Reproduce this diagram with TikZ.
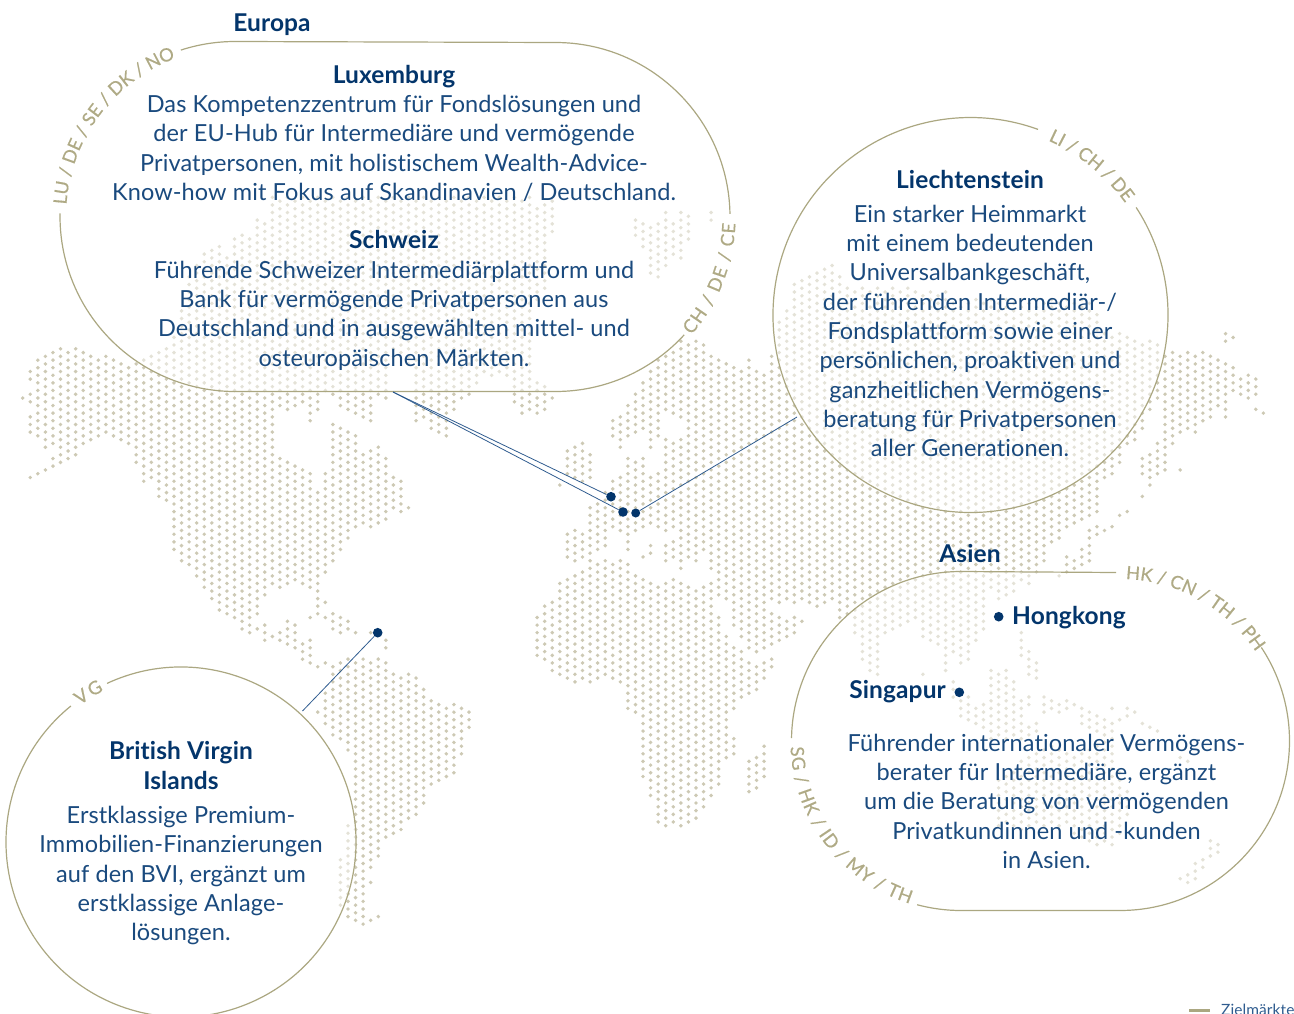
\documentclass[tikz,border=0pt]{standalone}
\usepackage{fontspec}
\setmainfont{Lato}[LetterSpace=0.5,Ligatures=NoCommon]
\newfontfamily\labfam{Lato}[FakeBold=0.5]
\usetikzlibrary{decorations.text}
\definecolor{dotc}{HTML}{CDC9B4}
\definecolor{linec}{HTML}{ABA781}
\definecolor{labc}{HTML}{AFAA85}
\definecolor{bodyc}{HTML}{1A4A7E}
\definecolor{headc}{HTML}{03356B}
\definecolor{connc}{HTML}{2F5C8F}
\newcommand\labf{\labfam\fontsize{18.3}{18.3}\selectfont\color{labc}}
\newcommand\headf{\fontsize{24.5}{29.3}\selectfont\bfseries\color{headc}}
\tikzset{
  bubble/.style={draw=linec,line width=1.2pt},
  veil/.style={fill=white,fill opacity=.47},
  conn/.style={draw=connc,line width=.8pt},
  pinb/.style={circle,fill=headc,inner sep=0pt,minimum size=9.6pt},
  pins/.style={circle,fill=headc,inner sep=0pt,minimum size=9pt},
  bodyt/.style={align=center,anchor=north,inner sep=0pt,text=bodyc,font=\fontsize{23.5}{29.3}\selectfont},
  headt/.style={anchor=base,inner sep=0pt,text=headc,font=\fontsize{24.5}{29.3}\selectfont\bfseries},
  lab/.style={decorate,decoration={text along path,text align={fit to path},text={|\labf|#1}}}
}
\newcommand\firstl{\rule{0pt}{20pt}}
\begin{document}
\begin{tikzpicture}[x=1pt,y=-1pt]
\useasboundingbox (0,0) rectangle (1294,1014);
% map dots: column / first y / last y
\foreach \c/\a/\b in {
0/398/398,1/372/380,1/393/402,1/417/432,1/477/477,2/360/436,2/474/474,3/356/447,3/470/470,4/353/447,4/458/466,5/349/455,5/462/462,6/353/458,7/349/455,8/353/443,9/357/440,10/360/436,11/357/432,12/360/436,13/363/440,14/368/443,15/365/462,16/360/482,17/357/478,18/353/497,19/350/500,20/340/550,21/310/562,22/280/565,23/265/577,24/255/588,25/250/598,26/247/610,27/255/615,28/240/617,29/235/629,30/240/632,31/220/613,31/628/628,32/225/593,32/625/640,33/200/587,33/636/636,
34/200/408,34/458/587,34/633/640,35/200/408,35/462/583,35/621/643,36/200/408,36/466/579,36/625/648,37/200/403,37/470/583,37/643/660,38/200/420,38/473/587,38/617/617,38/640/663,39/200/410,39/492/592,39/598/613,39/667/667,39/712/712,40/200/392,40/473/572,40/603/603,40/617/617,40/663/663,40/690/723,41/200/398,41/425/563,41/613/629,41/667/735,42/200/408,42/428/550,42/617/633,42/663/738,42/858/907,43/200/408,43/432/538,43/620/628,43/658/750,43/825/917,44/200/412,44/436/527,44/633/633,44/662/918,45/200/417,45/451/525,45/658/923,46/200/420,46/450/527,46/633/633,46/662/867,46/882/882,46/920/920,47/200/398,47/447/523,47/658/857,47/915/915,48/200/398,48/458/520,48/640/648,48/662/837,49/200/360,49/477/508,49/673/833,50/200/350,50/481/512,50/677/830,51/200/365,51/508/508,51/677/818,52/200/417,52/677/813,53/200/417,53/688/803,54/200/429,54/700/783,55/200/433,55/705/780,56/200/437,56/708/777,57/200/410,57/705/773,58/200/397,58/708/753,59/200/393,59/712/727,60/200/385,61/200/375,62/200/375,63/200/375,64/200/375,65/200/403,66/200/413,67/200/410,68/205/300,68/385/413,68/618/655,69/205/290,69/385/410,69/606/659,70/203/230,70/398/398,70/602/667,
71/583/674,71/485/485,72/450/477,72/533/557,72/579/678,73/447/480,73/530/560,73/576/682,74/443/480,74/533/557,74/572/678,75/455/480,75/507/520,75/530/557,75/568/682,76/507/552,76/564/678,77/493/545,77/561/674,78/420/437,78/482/530,78/564/678,79/417/447,79/480/533,79/561/682,80/405/433,80/457/493,80/507/533,80/542/549,80/564/708,81/223/238,81/395/430,81/460/530,81/575/712,82/223/245,82/383/430,82/457/523,82/557/557,82/579/777,83/227/275,83/373/447,83/477/523,83/545/553,83/583/792,84/223/278,84/363/437,84/477/530,84/587/823,85/215/263,85/357/407,85/440/530,85/545/557,85/583/825,86/227/253,86/350/413,86/440/530,86/542/557,86/579/822,87/213/260,87/343/420,87/440/557,87/568/568,87/583/825,88/213/237,88/343/557,88/587/822,89/340/560,89/590/818,90/343/553,90/587/807,91/212/223,91/353/570,91/583/792,92/360/597,92/617/785,93/365/598,93/635/757,94/367/607,94/617/625,94/647/712,94/737/755,95/372/637,95/650/697,96/360/647,96/662/693,96/760/792,97/372/652,97/667/690,97/757/788,98/375/648,98/662/678,98/746/777,99/355/552,99/560/600,99/612/643,99/658/667,100/320/602,100/620/640,101/310/600,101/625/637,102/283/600,102/617/633,103/280/598,103/621/621,
104/280/600,105/275/603,106/270/603,107/265/595,108/280/617,109/290/613,110/290/635,111/290/658,112/290/670,113/290/675,114/290/633,115/290/627,116/290/625,117/290/620,118/295/617,119/295/633,119/674/674,120/295/640,121/295/643,122/295/672,123/300/652,123/680/695,124/300/663,124/700/713,125/300/660,125/700/720,126/300/643,126/705/725,127/300/628,127/705/730,128/300/587,128/670/735,129/300/600,129/672/737,129/783/822,130/300/593,130/668/740,130/775/825,131/300/593,131/682/737,131/770/825,132/300/580,132/632/657,132/700/715,132/727/740,132/765/828,133/300/580,133/652/677,133/697/705,133/727/733,133/757/828,134/300/570,134/663/678,134/727/731,134/757/825,135/300/560,135/697/712,135/752/825,136/300/545,136/700/708,136/748/822,137/300/540,137/575/575,137/705/712,137/750/822,138/300/527,138/560/575,138/700/708,138/755/825,139/300/523,139/557/570,139/705/705,139/757/832,140/300/518,140/553/565,140/708/723,140/757/835,141/305/512,141/527/562,141/712/727,141/750/840,142/315/512,142/527/533,142/715/731,142/745/843,143/330/480,143/530/530,143/720/843,144/335/470,144/527/527,144/708/708,144/723/842,145/335/460,145/515/515,145/720/720,145/775/835,146/335/440,146/512/512,146/708/715,146/790/815,147/340/443,147/712/712,148/343/430,148/458/473,148/496/496,148/723/723,149/340/410,149/453/485,149/727/727,150/343/400,150/443/473,150/731/731,151/353/430,151/443/470,152/354/433,152/443/443,153/353/433,153/470/470,153/757/757,153/878/878,154/352/428,154/760/760,154/873/882,155/355/432,155/863/878,156/352/420,156/858/867,157/355/417,157/840/857,158/360/408,158/843/852,159/333/342,159/363/417,160/337/337,160/367/390,161/378/393,162/378/398,163/378/392,163/409/409,164/413/413}{
  \pgfmathtruncatemacro\odd{mod(\c,2)}
  \pgfmathsetmacro\off{398+3.785*\odd}
  \pgfmathtruncatemacro\ka{round((\a-\off)/7.57)}
  \pgfmathtruncatemacro\kb{round((\b-\off)/7.57)}
  \pgfmathsetmacro\xx{22.7+7.565*\c}
  \foreach \k in {\ka,...,\kb}{
    \fill[dotc] (\xx,\off+7.57*\k) circle[radius=1.95pt];
  }
}
% veils over the map
\fill[veil] (235,41.5) -- (555.5,42.5) arc (-90:90:174.5) -- (235,391.5) arc (90:270:175) -- cycle;
\fill[veil] (970.5,315) circle[radius=197.5pt];
\fill[veil] (961,571.5) -- (1120,572.5) arc (-90:90:169.5) -- (961,910.5) arc (90:270:169.5) -- cycle;
\fill[veil] (181,842) circle[radius=175pt];
% bubble outlines
\draw[bubble] (235,216.5) ++(252:175) arc (252:270:175) -- (555.5,42.5) arc (-90:-1:174.5);
\draw[bubble] (555.5,217) ++(42.5:174.5) arc (42.5:90:174.5) -- (235,391.5) arc (90:181:175);
\draw[bubble] (970.5,315) ++(-33:197.5) arc (-33:290:197.5);
\draw[bubble] (961,741) ++(105:169.5) arc (105:90:169.5) -- (1120,910.5) arc (90:-33.5:169.5);
\draw[bubble] (1116,572.5) -- (961,571.5) arc (270:181:169.5);
\draw[bubble] (181,842) ++(245:175) arc (245:591:175);
% arc labels
\path[lab={LU / DE / SE / DK / NO}] (235,216.5) ++(184:169) arc (184:249:169);
\path[lab={CH / DE / CE}] (555.5,217) ++(41:180) arc (41:2:180);
\path[lab={LI / CH / DE}] (970.5,315) ++(-66:191) arc (-66:-37:191);
\path[lab={HK / CN / TH / PH}] (1120,742) ++(-88:163) arc (-88:-35.5:163);
\path[lab={SG / HK / ID / MY / TH}] (961,741) ++(178:170.5) arc (178:107.5:170.5);
\path[lab={VG}] (181,842) ++(233.5:170) arc (233.5:243:170);
% connectors and pins
\node[pinb] (lux) at (611,496.7) {};
\node[pinb] (ch) at (623,512) {};
\node[pins] (li) at (635.7,513) {};
\node[pinb] (bvi) at (377.7,632.7) {};
\node[pinb] (hk) at (998.7,616.7) {};
\node[pinb] (sg) at (959.3,692.3) {};
\coordinate (eu) at (393,392);
\coordinate (lie) at (797,417);
\coordinate (vg) at (302.5,711);
\draw[conn] (lux) -- (eu);
\draw[conn] (ch) -- (eu);
\draw[conn] (li) -- (lie);
\draw[conn] (bvi) -- (vg);
% text
\node[headt] (tEuropa) at (272,32) {Europa};
\node[headt] (tAsien) at (970,562) {Asien};
\node[bodyt] (tLux) at (394,63) {\firstl{\headf Luxemburg}\\Das Kompetenzzentrum für Fondslösungen und\\der EU-Hub für Intermediäre und vermögende\\Privatpersonen, mit holistischem Wealth-Advice-\\Know-how mit Fokus auf Skandinavien / Deutschland.};
\node[bodyt] (tCh) at (394,228.7) {\firstl{\headf Schweiz}\\Führende Schweizer Intermediärplattform und\\Bank für vermögende Privatpersonen aus\\Deutschland und in ausgewählten mittel- und\\osteuropäischen Märkten.};
\node[bodyt] (tLie) at (970,168.5) {\firstl{\headf Liechtenstein}\\[4.2pt]Ein starker Heimmarkt\\mit einem bedeutenden\\Universalbankgeschäft,\\der führenden Intermediär-/\\Fondsplattform sowie einer\\persönlichen, proaktiven und\\ganzheitlichen Vermögens-\\beratung für Privatpersonen\\aller Generationen.};
\node[bodyt] (tBvi) at (181,739.5) {\firstl{\headf British Virgin}\\{\headf Islands}\\[5.2pt]Erstklassige Premium-\\Immobilien-Finanzierungen\\auf den BVI, ergänzt um\\erstklassige Anlage-\\lösungen.};
\node[bodyt] (tAs) at (1046.5,731) {\firstl Führender internationaler Vermögens-\\berater für Intermediäre, ergänzt\\um die Beratung von vermögenden\\Privatkundinnen und -kunden\\in Asien.};
\node[headt,anchor=base west] (tHk) at (1012,624.3) {Hongkong};
\node[headt,anchor=base east] (tSg) at (946,698.3) {Singapur};
% legend
\coordinate (legA) at (1189,1010.7);
\coordinate (legB) at (1210,1010.7);
\draw[linec,line width=3pt] (legA) -- (legB);
\node[anchor=base west,inner sep=0pt,text=connc,font=\fontsize{15.5}{15.5}\selectfont] (tLeg) at (1221,1015.5) {Zielmärkte};
\end{tikzpicture}
\end{document}
